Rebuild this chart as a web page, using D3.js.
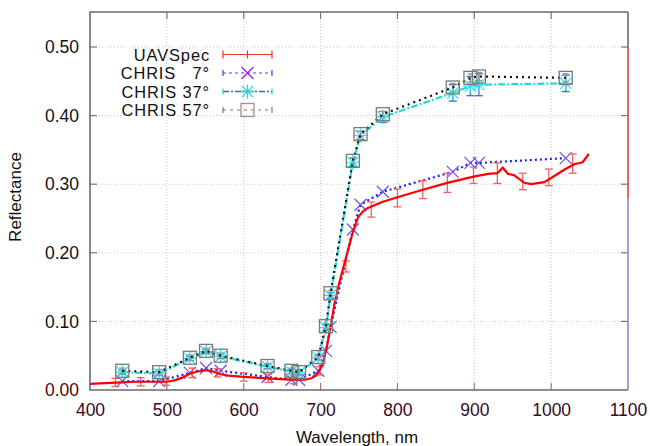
<!DOCTYPE html>
<html>
<head>
<meta charset="utf-8">
<script src="https://cdn.jsdelivr.net/npm/d3@7"></script>
<style>
  html, body { margin: 0; padding: 0; background: #fff; }
  svg { display: block; font-family: "Liberation Sans", Arial, sans-serif; }
</style>
</head>
<body>
<svg id="chart" width="650" height="446"></svg>
<script>
// ---- data ----
const uavWl   = [400, 420, 440, 460, 480, 500, 510, 520, 530, 540, 550, 560, 570, 580, 600, 630, 660, 680, 688, 694, 699, 704, 708, 713, 718, 724, 730, 736, 741, 745, 749, 755, 761, 780, 800, 833, 865, 899, 918, 930, 937, 944, 952, 965, 974, 991, 1000, 1017, 1030, 1041, 1049];
const uavRefl = [0.009, 0.010, 0.011, 0.012, 0.012, 0.012, 0.014, 0.018, 0.024, 0.027, 0.029, 0.027, 0.023, 0.021, 0.019, 0.017, 0.015, 0.015, 0.017, 0.021, 0.029, 0.043, 0.062, 0.092, 0.125, 0.155, 0.180, 0.205, 0.226, 0.240, 0.252, 0.260, 0.265, 0.274, 0.281, 0.292, 0.302, 0.311, 0.315, 0.316, 0.324, 0.315, 0.313, 0.302, 0.300, 0.303, 0.309, 0.321, 0.329, 0.332, 0.344];

const uavErrWl  = [433, 466, 499, 533, 566, 600, 632, 665, 699, 733, 766, 800, 833, 865, 899, 930, 963, 997, 1028];
const uavErrVal = [0.011, 0.012, 0.013, 0.025, 0.025, 0.019, 0.017, 0.015, 0.028, 0.180, 0.263, 0.280, 0.292, 0.302, 0.313, 0.316, 0.304, 0.310, 0.330];
const uavErrDev = [0.006, 0.006, 0.006, 0.007, 0.006, 0.006, 0.006, 0.006, 0.006, 0.008, 0.011, 0.013, 0.013, 0.014, 0.012, 0.015, 0.012, 0.012, 0.014];

const chrisWl  = [442, 490, 530, 551, 570, 631, 662, 672, 697, 707, 713, 742, 752, 781, 872, 895, 906, 1019];
const chris7   = [0.013, 0.013, 0.025, 0.032, 0.028, 0.019, 0.015, 0.015, 0.028, 0.057, 0.092, 0.234, 0.270, 0.289, 0.318, 0.331, 0.331, 0.338];
const chris37  = [0.026, 0.024, 0.046, 0.056, 0.049, 0.034, 0.027, 0.025, 0.047, 0.091, 0.138, 0.332, 0.371, 0.398, 0.433, 0.443, 0.445, 0.447];
const chris37Err = [0.003, 0.003, 0.003, 0.003, 0.003, 0.003, 0.003, 0.003, 0.003, 0.004, 0.004, 0.006, 0.006, 0.008, 0.012, 0.014, 0.016, 0.012];
const chris57  = [0.028, 0.026, 0.047, 0.057, 0.050, 0.035, 0.028, 0.026, 0.048, 0.093, 0.141, 0.334, 0.373, 0.402, 0.441, 0.455, 0.457, 0.455];
const chris57Err = [0.004, 0.004, 0.004, 0.004, 0.004, 0.004, 0.004, 0.004, 0.004, 0.004, 0.004, 0.004, 0.004, 0.004, 0.006, 0.006, 0.006, 0.006];

const xTicks = [400, 500, 600, 700, 800, 900, 1000, 1100];
const yTicks = [0.00, 0.10, 0.20, 0.30, 0.40, 0.50];
const legendLabels = ["UAVSpec", "CHRIS   7°", "CHRIS 37°", "CHRIS 57°"];

// ---- layout ----
const L = 90, R = 628, T = 12, B = 390;
const svg = d3.select("#chart");
const x = d3.scaleLinear().domain([400, 1100]).range([L, R]);
const y = d3.scaleLinear().domain([0, 0.551]).range([B, T]);

// grid
const grid = svg.append("g");
xTicks.slice(1, -1).forEach(t => {
  grid.append("line").attr("x1", x(t)).attr("x2", x(t)).attr("y1", T).attr("y2", B)
    .attr("stroke", "#c8c8c8").attr("stroke-width", 1).attr("stroke-dasharray", "1,2");
});
yTicks.slice(1).forEach(t => {
  grid.append("line").attr("x1", L).attr("x2", R).attr("y1", y(t)).attr("y2", y(t))
    .attr("stroke", "#c8c8c8").attr("stroke-width", 1).attr("stroke-dasharray", "1,2");
});

// axes via d3 axis
const xAxis = d3.axisBottom(x).tickValues(xTicks).tickSize(0).tickPadding(14).tickFormat(d3.format("d"));
const gx = svg.append("g").attr("transform", `translate(0,${B})`).call(xAxis);
gx.select(".domain").remove();
gx.selectAll("text").attr("font-size", 17.5).attr("fill", "#38091f")
  .attr("font-family", "Liberation Sans, Arial, sans-serif");

const yAxis = d3.axisLeft(y).tickValues(yTicks).tickSize(0).tickPadding(11).tickFormat(d3.format(".2f"));
const gy = svg.append("g").attr("transform", `translate(${L},0)`).call(yAxis);
gy.select(".domain").remove();
gy.selectAll("text").attr("font-size", 17.5).attr("fill", d => d === 0 ? "#5a0010" : "#111")
  .attr("font-family", "Liberation Sans, Arial, sans-serif");

// tick marks (inward, mirrored)
const tk = svg.append("g").attr("stroke", "#777").attr("stroke-width", 1.2);
xTicks.slice(1, -1).forEach(t => {
  tk.append("line").attr("x1", x(t)).attr("x2", x(t)).attr("y1", B).attr("y2", B - 7).attr("stroke", "#b07080");
  tk.append("line").attr("x1", x(t)).attr("x2", x(t)).attr("y1", T).attr("y2", T + 7);
});
yTicks.slice(1).forEach(t => {
  tk.append("line").attr("x1", L).attr("x2", L + 7).attr("y1", y(t)).attr("y2", y(t));
  tk.append("line").attr("x1", R).attr("x2", R - 7).attr("y1", y(t)).attr("y2", y(t));
});

// axis labels
svg.append("text").attr("x", 357).attr("y", 443).attr("text-anchor", "middle")
  .attr("font-size", 17).attr("fill", "#111").text("Wavelength, nm");
svg.append("text").attr("transform", "translate(21,197) rotate(-90)").attr("text-anchor", "middle")
  .attr("font-size", 17).attr("fill", "#111").text("Reflectance");

// ---- data layer ----
const plot = svg.append("g");
const line = d3.line().x(d => x(d[0])).y(d => y(d[1]));

function errBars(g, wl, val, dev, color, cap) {
  wl.forEach((w, i) => {
    const cx = x(w), y1 = y(val[i] - dev[i]), y2 = y(val[i] + dev[i]);
    g.append("line").attr("x1", cx).attr("x2", cx).attr("y1", y1).attr("y2", y2).attr("stroke", color).attr("stroke-width", 1.3);
    g.append("line").attr("x1", cx - cap).attr("x2", cx + cap).attr("y1", y1).attr("y2", y1).attr("stroke", color).attr("stroke-width", 1.3);
    g.append("line").attr("x1", cx - cap).attr("x2", cx + cap).attr("y1", y2).attr("y2", y2).attr("stroke", color).attr("stroke-width", 1.3);
  });
}

function cross(g, cx, cy, s, color, w) {
  g.append("path").attr("d", `M${cx - s},${cy - s}L${cx + s},${cy + s}M${cx - s},${cy + s}L${cx + s},${cy - s}`)
    .attr("stroke", color).attr("stroke-width", w).attr("fill", "none");
}
function star(g, cx, cy, s, color, w) {
  g.append("path").attr("d", `M${cx - s},${cy}L${cx + s},${cy}M${cx},${cy - s}L${cx},${cy + s}M${cx - s*0.8},${cy - s*0.8}L${cx + s*0.8},${cy + s*0.8}M${cx - s*0.8},${cy + s*0.8}L${cx + s*0.8},${cy - s*0.8}`)
    .attr("stroke", color).attr("stroke-width", w).attr("fill", "none");
}
function square(g, cx, cy, s, color, w) {
  g.append("rect").attr("x", cx - s).attr("y", cy - s).attr("width", 2 * s).attr("height", 2 * s)
    .attr("stroke", color).attr("stroke-width", w).attr("fill", "none");
}

// CHRIS 7
const c7 = chrisWl.map((w, i) => [w, chris7[i]]);
plot.append("path").datum(c7).attr("d", line).attr("fill", "none")
  .attr("stroke", "#2020ff").attr("stroke-width", 2.2).attr("stroke-dasharray", "2,3");
c7.forEach(d => cross(plot, x(d[0]), y(d[1]), 6, "#6a50f0", 1.2));

// UAVSpec
const uav = uavWl.map((w, i) => [w, uavRefl[i]]);
errBars(plot, uavErrWl, uavErrVal, uavErrDev, "#f06262", 4);
plot.append("path").datum(uav).attr("d", line).attr("fill", "none")
  .attr("stroke", "#ff0000").attr("stroke-width", 2.2);

// CHRIS 37
const c37 = chrisWl.map((w, i) => [w, chris37[i]]);
errBars(plot, chrisWl, chris37, chris37Err, "#3a6ee8", 4);
plot.append("path").datum(c37).attr("d", line).attr("fill", "none")
  .attr("stroke", "#20d8e0").attr("stroke-width", 2.2).attr("stroke-dasharray", "7,2,2,2");
c37.forEach(d => star(plot, x(d[0]), y(d[1]), 7, "#30e0e8", 1.2));

// CHRIS 57
const c57 = chrisWl.map((w, i) => [w, chris57[i]]);
errBars(plot, chrisWl, chris57, chris57Err, "#999", 3);
plot.append("path").datum(c57).attr("d", line).attr("fill", "none")
  .attr("stroke", "#111").attr("stroke-width", 2.2).attr("stroke-dasharray", "2,4");
c57.forEach(d => square(plot, x(d[0]), y(d[1]), 6.5, "#7a7a7a", 1.3));

// ---- border ----
const border = svg.append("g").attr("fill", "none").attr("stroke-width", 1.6);
border.append("path").attr("d", `M${R},${T}L${L},${T}L${L},${B}L${R},${B}`).attr("stroke", "#6a6a6a");
border.append("line").attr("x1", R).attr("x2", R).attr("y1", T).attr("y2", 48).attr("stroke", "#6a6a6a");
border.append("line").attr("x1", R).attr("x2", R).attr("y1", 48).attr("y2", 198).attr("stroke", "#e04040");
border.append("line").attr("x1", R).attr("x2", R).attr("y1", 198).attr("y2", B).attr("stroke", "#8a8acc");

// ---- legend ----
const leg = svg.append("g");
const legY = [54.5, 73, 91.5, 110];
const lx1 = 223, lx2 = 272, lxm = 247.5;
legendLabels.forEach((lab, i) => {
  leg.append("text").attr("x", 210).attr("y", legY[i] + 6).attr("text-anchor", "end")
    .attr("font-size", 16.4).attr("letter-spacing", 0.9).attr("fill", "#111")
    .style("white-space", "pre").text(lab);
});
leg.append("line").attr("x1", lx1).attr("x2", lx2).attr("y1", legY[0]).attr("y2", legY[0]).attr("stroke", "#ee3030").attr("stroke-width", 1.2);
[lx1, lxm, lx2].forEach(xx => leg.append("line").attr("x1", xx).attr("x2", xx).attr("y1", legY[0] - 4).attr("y2", legY[0] + 4).attr("stroke", "#ee3030").attr("stroke-width", 1.2));
leg.append("line").attr("x1", lx1).attr("x2", lx2).attr("y1", legY[1]).attr("y2", legY[1]).attr("stroke", "#4a40e0").attr("stroke-width", 1.2).attr("stroke-dasharray", "3,3");
[lx1, lx2].forEach(xx => leg.append("line").attr("x1", xx).attr("x2", xx).attr("y1", legY[1] - 3).attr("y2", legY[1] + 3).attr("stroke", "#4a40e0").attr("stroke-width", 1.2));
cross(leg, lxm, legY[1], 6, "#a020e0", 1.3);
leg.append("line").attr("x1", lx1).attr("x2", lx2).attr("y1", legY[2]).attr("y2", legY[2]).attr("stroke", "#3a60e0").attr("stroke-width", 1.6).attr("stroke-dasharray", "6,2,2,2");
[lx1, lx2].forEach(xx => leg.append("line").attr("x1", xx).attr("x2", xx).attr("y1", legY[2] - 3).attr("y2", legY[2] + 3).attr("stroke", "#30c8d8").attr("stroke-width", 1.2));
star(leg, lxm, legY[2], 7, "#30d0e0", 1.3);
leg.append("line").attr("x1", lx1).attr("x2", lx2).attr("y1", legY[3]).attr("y2", legY[3]).attr("stroke", "#777").attr("stroke-width", 1.2).attr("stroke-dasharray", "3,4");
[lx1, lx2].forEach(xx => leg.append("line").attr("x1", xx).attr("x2", xx).attr("y1", legY[3] - 3).attr("y2", legY[3] + 3).attr("stroke", "#777").attr("stroke-width", 1.2));
square(leg, lxm, legY[3], 6.5, "#a89090", 1.3);
</script>
</body>
</html>
